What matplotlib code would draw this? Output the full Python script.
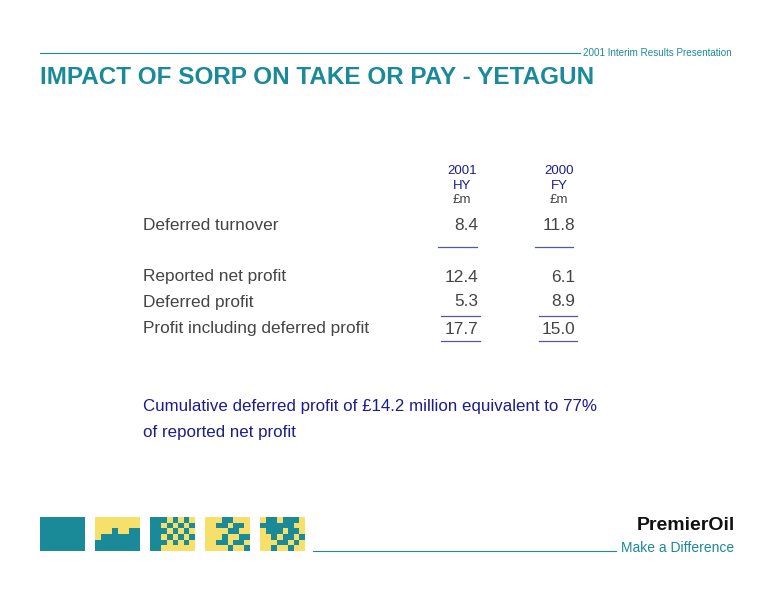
import matplotlib.pyplot as plt
import numpy as np
from matplotlib.patches import Rectangle

plt.rcParams['font.family'] = ['Liberation Sans', 'DejaVu Sans']

TEAL = '#1a8a99'
NAVY = '#1c1c8c'
GREY = '#444444'
YELLOW = '#f7e06a'

titulo = 'IMPACT OF SORP ON TAKE OR PAY - YETAGUN'
encabezado = '2001 Interim Results Presentation'
columnas = [('2001', 'HY', '£m'), ('2000', 'FY', '£m')]
filas = ['Deferred turnover', 'Reported net profit', 'Deferred profit',
         'Profit including deferred profit']
valores_hy = ['8.4', '12.4', '5.3', '17.7']
valores_fy = ['11.8', '6.1', '8.9', '15.0']
nota = ['Cumulative deferred profit of £14.2 million equivalent to 77%',
        'of reported net profit']

# mosaicos decorativos del pie (1 = amarillo)
mosaicos = [
    np.zeros((6, 8)),
    np.array([[1, 1, 1, 1, 1, 1, 1, 1], [1, 1, 1, 1, 1, 1, 1, 1],
              [1, 1, 1, 0, 1, 1, 0, 0], [1, 0, 0, 0, 0, 0, 0, 0],
              [0, 0, 0, 0, 0, 0, 0, 0], [0, 0, 0, 0, 0, 0, 0, 0]]),
    np.array([[0, 0, 0, 1, 0, 1, 0, 1], [0, 0, 1, 0, 1, 0, 1, 0],
              [0, 0, 0, 1, 0, 1, 0, 1], [0, 0, 1, 0, 1, 0, 1, 0],
              [0, 0, 0, 1, 0, 1, 0, 1], [0, 0, 1, 1, 1, 1, 1, 1]]),
    np.array([[1, 1, 1, 0, 0, 1, 1, 1], [1, 1, 0, 0, 1, 0, 0, 1],
              [1, 1, 1, 1, 0, 0, 1, 1], [1, 1, 1, 0, 1, 1, 0, 0],
              [1, 1, 0, 0, 1, 0, 0, 1], [1, 1, 1, 1, 0, 1, 1, 0]]),
    np.array([[1, 0, 0, 1, 0, 0, 0, 1], [0, 0, 0, 0, 0, 0, 1, 1],
              [1, 0, 0, 0, 1, 0, 0, 1], [1, 1, 0, 1, 0, 0, 1, 0],
              [1, 1, 1, 0, 0, 1, 0, 1], [1, 1, 0, 1, 1, 0, 1, 1]]),
]

fig = plt.figure(figsize=(7.76, 6), dpi=100)
ax = fig.add_axes([0, 0, 1, 1])
ax.set_xlim(0, 776)
ax.set_ylim(600, 0)
ax.axis('off')

ax.plot([40, 580], [53, 53], color=TEAL, lw=0.8)
ax.text(583, 53, encabezado, fontsize=7.1, color=TEAL, va='center')
ax.text(40, 77, titulo, fontsize=17.5, color=TEAL, weight='bold', va='center')

xs_col = [478, 575]
for x, (a, b, c) in zip(xs_col, columnas):
    ax.text(x - 16, 171, a, fontsize=9.5, color=NAVY, ha='center', va='center')
    ax.text(x - 16, 186, b, fontsize=9.5, color=NAVY, ha='center', va='center')
    ax.text(x - 16, 200, c, fontsize=9.5, color=GREY, ha='center', va='center')

ys = [226, 277, 302, 329]
for y, fila, hy, fy in zip(ys, filas, valores_hy, valores_fy):
    ax.text(143, y, fila, fontsize=12.4, color=GREY, va='center')
    ax.text(xs_col[0], y, hy, fontsize=12.4, color=GREY, ha='right', va='center')
    ax.text(xs_col[1], y, fy, fontsize=12.4, color=GREY, ha='right', va='center')

for y, (x0, x1), (x2, x3) in [(247, (438, 477), (535, 573)),
                               (316, (441, 480), (539, 577)),
                               (341, (441, 480), (539, 577))]:
    ax.plot([x0, x1], [y, y], color='#5555aa', lw=0.9)
    ax.plot([x2, x3], [y, y], color='#5555aa', lw=0.9)

for i, linea in enumerate(nota):
    ax.text(143, 406 + 26 * i, linea, fontsize=12.2, color=NAVY, va='center')

for k, m in enumerate(mosaicos):
    x0 = 40 + 55 * k
    ax.add_patch(Rectangle((x0, 517), 45, 34, color=TEAL, lw=0))
    h, w = m.shape
    for i in range(h):
        for j in range(w):
            if m[i, j]:
                ax.add_patch(Rectangle((x0 + j * 45 / w, 517 + i * 34 / h),
                                       45 / w, 34 / h, color=YELLOW, lw=0))

ax.plot([313, 616], [551, 551], color=TEAL, lw=0.8)
ax.text(735, 526, 'PremierOil', fontsize=14, weight='bold', color='#111111',
        ha='right', va='center')
ax.text(621, 548, 'Make a Difference', fontsize=10, color=TEAL, va='center')

fig.savefig('out.png', dpi=100)
